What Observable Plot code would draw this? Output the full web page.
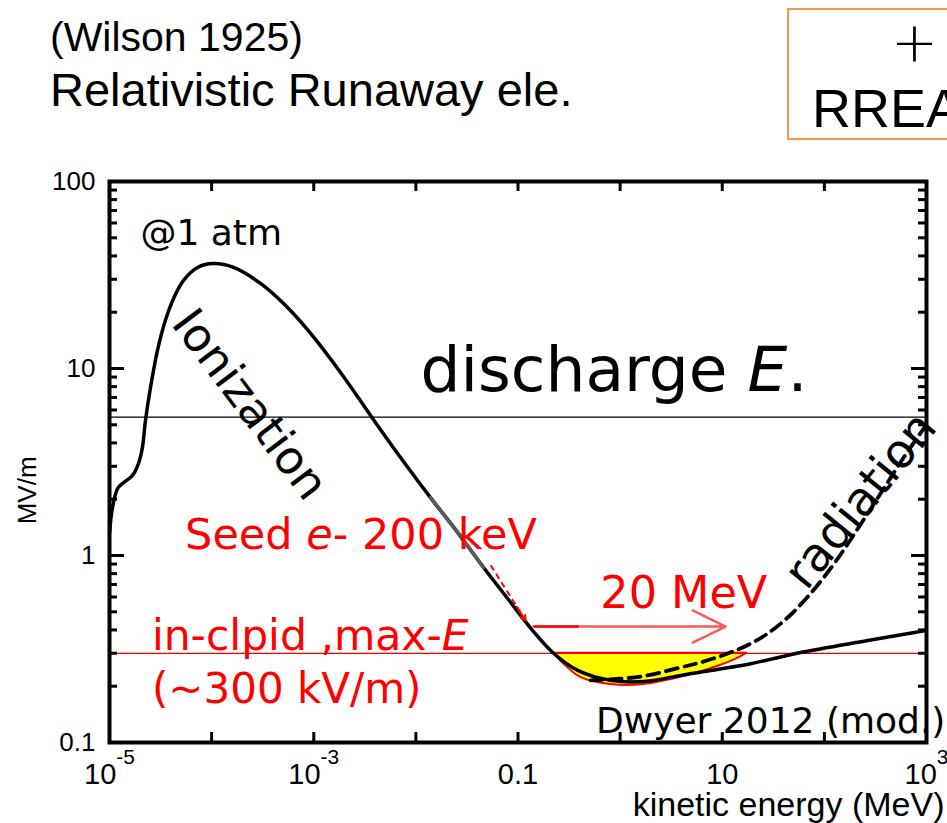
<!DOCTYPE html>
<html><head><meta charset="utf-8">
<script src="https://cdn.jsdelivr.net/npm/d3@7"></script>
<script src="https://cdn.jsdelivr.net/npm/@observablehq/plot@0.6"></script>
<style>
html,body{margin:0;padding:0;background:#fff;overflow:hidden;}
#header{position:relative;width:947px;height:150px;font-family:"Liberation Sans",Arial,sans-serif;color:#000;overflow:hidden;}
#header div{position:absolute;white-space:nowrap;line-height:1;}
#chart{width:947px;height:673px;overflow:hidden;}
</style></head><body>
<div id="header">
  <div style="left:50px;top:17px;font-size:41px;">(Wilson 1925)</div>
  <div style="left:50px;top:66px;font-size:47px;">Relativistic Runaway ele.</div>
  <div style="left:787px;top:8px;width:240px;height:132px;border:2px solid #f79646;box-sizing:border-box;"></div>
  <div style="left:891px;top:14px;font-size:56px;font-family:'DejaVu Sans';font-weight:200;">+</div>
  <div style="left:812px;top:81px;font-size:54px;">RREA</div>
</div>
<div id="chart"></div>
<script>
// ---- data ----
// Ionization (collisional) stopping field curve, energy in MeV, field in MV/m
const energyMeV = [1e-5, 1.07e-5, 1.2e-5, 1.37e-5, 1.68e-5, 1.92e-5, 2.1e-5, 2.25e-5, 2.52e-5, 2.95e-5,
  3.53e-5, 4.24e-5, 5.31e-5, 7.28e-5, 1.05e-4, 1.64e-4, 3.01e-4, 5.30e-4, 9.31e-4,
  1.83e-3, 3.6e-3, 6.62e-3, 0.0139, 0.0256, 0.0460, 0.0791, 0.142, 0.223, 0.384,
  0.807, 1.70, 4.58, 19.0, 58.6, 266, 1000];
const fieldMVm = [1.31, 1.81, 2.28, 2.45, 2.68, 3.10, 3.78, 5.27, 7.91, 12.5,
  18.1, 23.7, 29.6, 34.7, 36.4, 34.7, 28.5, 21.7, 15.4,
  9.52, 5.61, 3.51, 2.04, 1.33, 0.863, 0.589, 0.392, 0.30, 0.243,
  0.215, 0.212, 0.232, 0.264, 0.303, 0.351, 0.398];
// highlighted (grey) stretch of the curve, MeV
const greyRange = [0.0139, 0.0460];
// Including radiation losses (dashed)
const radEnergyMeV = [0.514, 1.59, 3.92, 6.14, 11.3, 19.0, 27.9, 43.7, 73.5, 129, 227, 356, 598, 1000];
const radFieldMVm = [0.215, 0.225, 0.252, 0.268, 0.299, 0.338, 0.383, 0.466, 0.627, 0.929, 1.47, 2.15, 3.34, 5.02];
// Runaway region (yellow), lower boundary
const runawayEnergyMeV = [0.223, 0.292, 0.410, 0.807, 1.70, 4.58, 9.02, 13.5, 17.3];
const runawayFieldMVm = [0.30, 0.258, 0.223, 0.204, 0.204, 0.228, 0.255, 0.278, 0.30];
// reference levels
const dischargeField = 5.5;   // MV/m
const cloudMaxField = 0.3;    // MV/m
// arrows
const seedArrowX = [0.054, 0.1186], seedArrowY = [0.886, 0.449];
const gainArrowX = [0.142, 10.8], gainArrowY = [0.417, 0.417];
const gainArrowRedEnd = 0.393;
// axes
const xTickValues = [1e-5, 1e-4, 1e-3, 1e-2, 1e-1, 1, 10, 100, 1000];
const xLabelValues = [1e-5, 1e-3, 0.1, 10, 1000];
const xTickLabels = ["10^{-5}", "10^{-3}", "0.1", "10", "10^{3}"];
const yMajor = [0.1, 1, 10, 100];
const yTickLabels = ["0.1", "1", "10", "100"];
const yMinor = [0.2, 0.3, 0.4, 0.5, 0.6, 0.7, 0.8, 0.9, 2, 3, 4, 5, 6, 7, 8, 9, 20, 30, 40, 50, 60, 70, 80, 90];
const xAxisLabel = "kinetic energy (MeV)";
const yAxisLabel = "MV/m";
// annotations (anchor positions in data units)
const noteText = ["@1 atm", "Ionization", "discharge *E*.", "Seed *e*- 200 keV", "in-clpid ,max-*E*",
  "(~300 kV/m)", "20 MeV", "radiation", "Dwyer 2012 (mod.)"];
const noteX = [2.01e-5, 2.35e-4, 0.0111, 5.5e-5, 2.6e-5, 2.6e-5, 0.64, 227, 0.58];
const noteY = [45.5, 6.41, 7.62, 1.08, 0.312, 0.162, 0.527, 1.97, 0.113];

// ---- build ----
const W = 947, H = 673;
const mL = 109, mR = 21, mT = 31, mB = 81;
const innerW = W - mL - mR, innerH = H - mT - mB;

const curve = energyMeV.map((e, i) => ({e, f: fieldMVm[i]}));
const greyCurve = curve.filter(d => d.e >= greyRange[0] && d.e <= greyRange[1]);
const radCurve = radEnergyMeV.map((e, i) => ({e, f: radFieldMVm[i]}));
const runaway = runawayEnergyMeV.map((e, i) => ({e, f: runawayFieldMVm[i]}));

const lg = Math.log10;
const seedHeadStart = [0, 1].map(k => Math.pow(10, lg(k ? seedArrowY[0] : seedArrowX[0]) + 0.75 * (lg(k ? seedArrowY[1] : seedArrowX[1]) - lg(k ? seedArrowY[0] : seedArrowX[0]))));

const ann = "DejaVu Sans, sans-serif";
const note = (i, opts) => Plot.text([i], {x: j => noteX[j], y: j => noteY[j], text: j => noteText[j],
  fontFamily: ann, textAnchor: "start", lineAnchor: "bottom", ...opts});

const chart = Plot.plot({
  width: W, height: H,
  marginLeft: mL, marginRight: mR, marginTop: mT, marginBottom: mB,
  x: {type: "log", domain: [1e-5, 1e3], axis: null},
  y: {type: "log", domain: [0.1, 100], axis: null},
  style: {background: "white", fontFamily: "Liberation Sans, Arial, sans-serif", color: "black"},
  marks: [
    Plot.areaY(runaway, {x: "e", y1: "f", y2: () => cloudMaxField, fill: "#ffff00", stroke: "#ff0000", strokeWidth: 2, curve: "catmull-rom"}),
    Plot.ruleY([dischargeField], {stroke: "black", strokeWidth: 1.2}),
    Plot.ruleY([cloudMaxField], {stroke: "#ff0000", strokeWidth: 1.3}),
    Plot.line(curve, {x: "e", y: "f", stroke: "black", strokeWidth: 3.5, curve: "catmull-rom", clip: true}),
    Plot.line(greyCurve, {x: "e", y: "f", stroke: "#5a5a5a", strokeWidth: 3.5, curve: "catmull-rom", clip: true}),
    Plot.line(radCurve, {x: "e", y: "f", stroke: "black", strokeWidth: 3.8, strokeDasharray: "12,7", curve: "catmull-rom", clip: true}),
    // seed arrow (dashed shaft + solid head)
    Plot.link([0], {x1: () => seedArrowX[0], y1: () => seedArrowY[0], x2: () => seedArrowX[1], y2: () => seedArrowY[1],
      stroke: "#ff0000", strokeWidth: 2, strokeDasharray: "6,4"}),
    Plot.arrow([0], {x1: () => seedHeadStart[0], y1: () => seedHeadStart[1], x2: () => seedArrowX[1], y2: () => seedArrowY[1],
      stroke: "#ff0000", strokeWidth: 2, headLength: 16, headAngle: 55}),
    // gain arrow
    Plot.arrow([0], {x1: () => gainArrowX[0], y1: () => gainArrowY[0], x2: () => gainArrowX[1], y2: () => gainArrowY[1],
      stroke: "#ff5a5a", strokeWidth: 2.5, headLength: 22, headAngle: 52}),
    Plot.link([0], {x1: () => gainArrowX[0], y1: () => gainArrowY[0], x2: () => gainArrowRedEnd, y2: () => gainArrowY[1],
      stroke: "#ff0000", strokeWidth: 2.5}),
    // frame and ticks
    Plot.frame({stroke: "black", strokeWidth: 4}),
    Plot.ruleX(xTickValues, {x: d => d, insetTop: innerH - 10, stroke: "black", strokeWidth: 3}),
    Plot.ruleX(xTickValues, {x: d => d, insetBottom: innerH - 10, stroke: "black", strokeWidth: 3}),
    Plot.ruleY(yMajor, {y: d => d, insetRight: innerW - 15, stroke: "black", strokeWidth: 3}),
    Plot.ruleY(yMajor, {y: d => d, insetLeft: innerW - 15, stroke: "black", strokeWidth: 3}),
    Plot.ruleY(yMinor, {y: d => d, insetRight: innerW - 8, stroke: "black", strokeWidth: 3}),
    Plot.ruleY(yMinor, {y: d => d, insetLeft: innerW - 8, stroke: "black", strokeWidth: 3}),
    // tick labels
    Plot.text(xLabelValues, {x: d => d, text: (d, i) => xTickLabels[i], frameAnchor: "bottom", dy: 41,
      lineAnchor: "bottom", textAnchor: "middle", fontSize: 29, fill: "black"}),
    Plot.text(yMajor, {y: d => d, text: (d, i) => yTickLabels[i], frameAnchor: "left", dx: -14,
      lineAnchor: "middle", textAnchor: "end", fontSize: 26, fill: "black"}),
    // axis labels
    Plot.text([xAxisLabel], {frameAnchor: "bottom-right", dx: 18, dy: 73, lineAnchor: "bottom", textAnchor: "end", fontSize: 34, fill: "black"}),
    Plot.text([yAxisLabel], {x: () => 1e-5, y: () => 2.23, dx: -82, rotate: -90, lineAnchor: "middle", textAnchor: "middle", fontSize: 26, fill: "black"}),
    // annotations
    note(0, {fontSize: 36, fill: "black"}),
    note(1, {fontSize: 46, fill: "black", rotate: 53, textAnchor: "middle", lineAnchor: "middle"}),
    note(2, {fontSize: 63, fill: "black"}),
    note(3, {fontSize: 43, fill: "#ff0000"}),
    note(4, {fontSize: 42.5, fill: "#ff0000"}),
    note(5, {fontSize: 42, fill: "#ff0000"}),
    note(6, {fontSize: 44.5, fill: "#ff0000"}),
    note(7, {fontSize: 47, fill: "black", rotate: -51, textAnchor: "middle", lineAnchor: "middle"}),
    note(8, {fontSize: 36, fill: "black"})
  ]
});

// rich text: *italic* and ^{superscript}
const NS = "http://www.w3.org/2000/svg";
chart.querySelectorAll("text").forEach(t => {
  const s = t.textContent;
  if (!/\*|\^\{/.test(s)) return;
  while (t.firstChild) t.removeChild(t.firstChild);
  const re = /\*([^*]+)\*|\^\{([^}]+)\}|([^*^]+)/g;
  let m;
  while ((m = re.exec(s))) {
    const ts = document.createElementNS(NS, "tspan");
    if (m[1]) { ts.textContent = m[1]; ts.setAttribute("font-style", "italic"); }
    else if (m[2]) { ts.textContent = m[2]; ts.setAttribute("font-size", "0.72em"); ts.setAttribute("dy", "-0.95em"); }
    else ts.textContent = m[3];
    t.appendChild(ts);
  }
});
document.getElementById("chart").appendChild(chart);
</script>
</body></html>
